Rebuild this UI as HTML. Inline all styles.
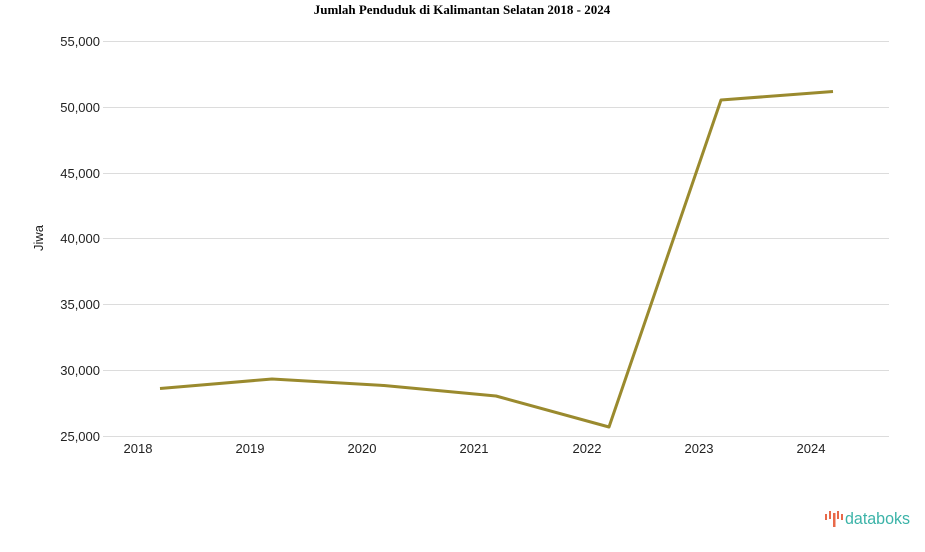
<!DOCTYPE html>
<html><head><meta charset="utf-8"><style>
body{margin:0;background:#fff;width:925px;height:547px;overflow:hidden}
</style></head><body>
<svg width="925" height="547" xmlns="http://www.w3.org/2000/svg">
<text x="462" y="14" text-anchor="middle" font-family="Liberation Serif" font-weight="bold" font-size="13" fill="#000">Jumlah Penduduk di Kalimantan Selatan 2018 - 2024</text>
<g stroke="#dcdcdc" stroke-width="1">
<line x1="103" x2="889" y1="41.5" y2="41.5"/>
<line x1="103" x2="889" y1="107.5" y2="107.5"/>
<line x1="103" x2="889" y1="173.5" y2="173.5"/>
<line x1="103" x2="889" y1="238.5" y2="238.5"/>
<line x1="103" x2="889" y1="304.5" y2="304.5"/>
<line x1="103" x2="889" y1="370.5" y2="370.5"/>
<line x1="103" x2="889" y1="436.5" y2="436.5"/>
</g>
<g font-family="Liberation Sans, sans-serif" font-size="13" fill="#222" text-anchor="end">
<text x="100" y="46">55,000</text>
<text x="100" y="112">50,000</text>
<text x="100" y="178">45,000</text>
<text x="100" y="243">40,000</text>
<text x="100" y="309">35,000</text>
<text x="100" y="375">30,000</text>
<text x="100" y="441">25,000</text>
</g>
<g font-family="Liberation Sans, sans-serif" font-size="13" fill="#222" text-anchor="middle">
<text x="138" y="453">2018</text>
<text x="250" y="453">2019</text>
<text x="362" y="453">2020</text>
<text x="474" y="453">2021</text>
<text x="587" y="453">2022</text>
<text x="699" y="453">2023</text>
<text x="811" y="453">2024</text>
</g>
<text transform="translate(43,238) rotate(-90)" text-anchor="middle" font-family="Liberation Sans, sans-serif" font-size="13" fill="#222">Jiwa</text>
<polyline fill="none" stroke="#9a8a2e" stroke-width="3" stroke-linejoin="round" points="160,388.5 272,379 384,385.5 496,396 609,427 721,100 833,91.5"/>
<g fill="#e8694a">
<rect x="825" y="514" width="2" height="6"/><rect x="829" y="511" width="2" height="8"/><rect x="833" y="513" width="2.5" height="14"/><rect x="837" y="511" width="2" height="8"/><rect x="841" y="514" width="2" height="6"/>
</g>
<text x="845" y="524" font-family="Liberation Sans, sans-serif" font-size="16.5" fill="#3bb3a8" textLength="65" lengthAdjust="spacingAndGlyphs">databoks</text>
</svg>
</body></html>
